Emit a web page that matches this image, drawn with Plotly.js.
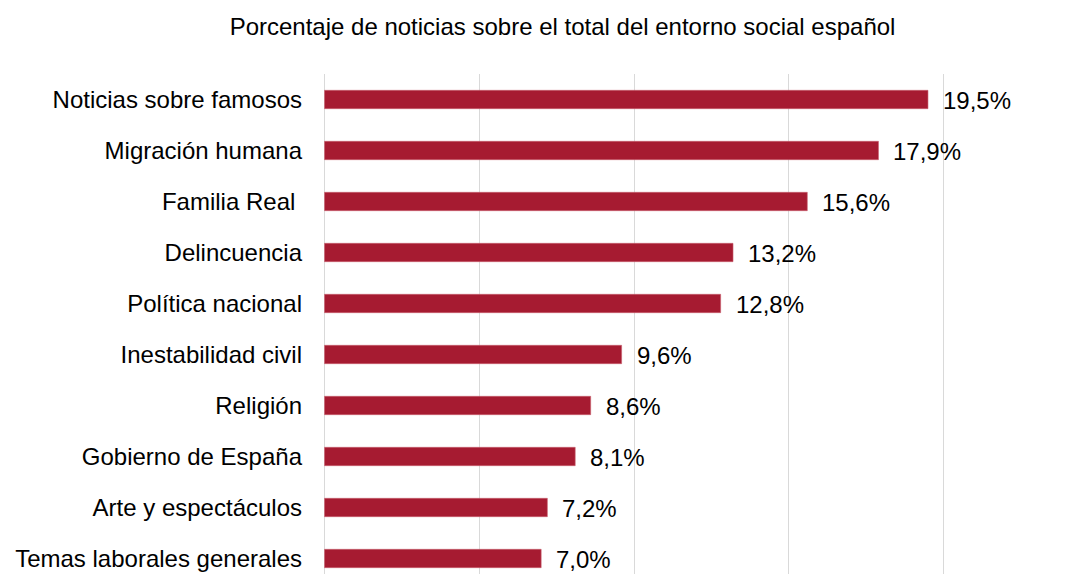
<!DOCTYPE html>
<html>
<head>
<meta charset="utf-8">
<script src="https://cdn.plot.ly/plotly-3.0.1.min.js"></script>
<style>html,body{margin:0;padding:0;background:#fff;}#chart{width:1086px;height:574px;}</style>
</head>
<body>
<div id="chart"></div>
<script>
const categories = [
  "Noticias sobre famosos",
  "Migración humana",
  "Familia Real\u00A0",
  "Delincuencia",
  "Política nacional",
  "Inestabilidad civil",
  "Religión",
  "Gobierno de España",
  "Arte y espectáculos",
  "Temas laborales generales"
];
const values = [19.5, 17.9, 15.6, 13.2, 12.8, 9.6, 8.6, 8.1, 7.2, 7.0];
const valueLabels = values.map(v => v.toFixed(1).replace('.', ',') + '%');
const chartTitle = "Porcentaje de noticias sobre el total del entorno social español";

const FONT = '"Liberation Sans", Arial, Helvetica, sans-serif';

const trace = {
  type: 'bar',
  orientation: 'h',
  x: values,
  y: categories,
  width: 0.36,
  marker: {color: '#A61B31', line: {color: '#c9606f', width: 0.6}},
  hoverinfo: 'none'
};

const annotations = values.map((v, i) => ({
  x: v, y: categories[i], xref: 'x', yref: 'y',
  text: valueLabels[i], showarrow: false,
  xanchor: 'left', yanchor: 'middle', xshift: 13, yshift: -1,
  font: {family: FONT, size: 24, color: '#000'}
}));

const layout = {
  width: 1086, height: 574,
  margin: {l: 323, r: 141, t: 74, b: 0},
  paper_bgcolor: '#fff', plot_bgcolor: '#fff',
  showlegend: false,
  title: {
    text: chartTitle,
    font: {family: FONT, size: 24, color: '#000'},
    xref: 'container', yref: 'container',
    x: 0.518, xanchor: 'center', y: 0.953, yanchor: 'middle'
  },
  xaxis: {
    range: [-0.05, 20.05], dtick: 5, tick0: 0,
    showgrid: true, gridcolor: '#d9d9d9', gridwidth: 1,
    zeroline: false, showline: false, showticklabels: false, ticks: ''
  },
  yaxis: {
    type: 'category',
    range: [9.304, -0.5],
    showgrid: false, zeroline: false, showline: false, ticks: '',
    ticklabelstandoff: 20,
    tickfont: {family: FONT, size: 24, color: '#000'}
  },
  annotations: annotations
};

Plotly.newPlot('chart', [trace], layout, {staticPlot: true, displayModeBar: false});
</script>
</body>
</html>
